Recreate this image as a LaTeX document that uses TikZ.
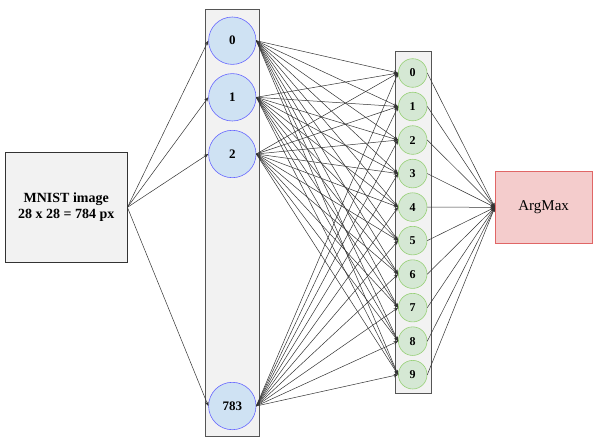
\documentclass[tikz,border=0pt]{standalone}
\usepackage{fontspec}
\setmainfont{Liberation Serif}
\usetikzlibrary{arrows.meta}
\definecolor{boxfill}{HTML}{F2F2F2}
\definecolor{boxline}{HTML}{555555}
\definecolor{bluefill}{HTML}{CFE2F3}
\definecolor{blueline}{HTML}{6666FF}
\definecolor{greenfill}{HTML}{D5E8D4}
\definecolor{greenline}{HTML}{97D077}
\definecolor{redfill}{HTML}{F4CCCC}
\definecolor{redline}{HTML}{E06666}
\definecolor{edgecol}{HTML}{333333}
\begin{document}
\begin{tikzpicture}[x=1pt,y=-1pt,
  column/.style={draw=boxline, fill=boxfill, line width=0.8pt, inner sep=0pt},
  inneuron/.style={circle, draw=blueline, fill=bluefill, line width=0.6pt, minimum size=47.4pt, inner sep=0pt, font=\bfseries\fontsize{13}{15}\selectfont},
  outneuron/.style={circle, draw=greenline, fill=greenfill, line width=0.6pt, minimum size=28.6pt, inner sep=0pt, font=\bfseries\fontsize{12}{14}\selectfont},
  conn/.style={draw=edgecol, line width=0.5pt, -{Stealth[length=4.5pt,width=3.5pt]}},
]
\useasboundingbox (0,0) rectangle (596,444);
\fill[white] (0,0) rectangle (596,444);
% columns
\node[column, minimum width=53.3pt, minimum height=427pt] (incol) at (232.35,222.8) {};
\node[column, minimum width=36pt, minimum height=341.6pt] (outcol) at (413.3,222.5) {};
% input box
\node[draw=edgecol, fill=boxfill, line width=0.8pt, minimum width=121.5pt, minimum height=109.3pt, align=center,
  font=\bfseries\fontsize{14}{16}\selectfont] (mnist) at (66.25,207.35) {MNIST image\\28 x 28 = 784 px};
% argmax
\node[draw=redline, fill=redfill, line width=0.8pt, minimum width=96.7pt, minimum height=71.3pt,
  font=\fontsize{15}{18}\selectfont] (argmax) at (543.65,207.35) {ArgMax};
% input neurons
\node[inneuron] (in0) at (232.3,40.7) {0};
\node[inneuron] (in1) at (232.3,97.3) {1};
\node[inneuron] (in2) at (232.3,154) {2};
\node[inneuron] (in783) at (232.3,406) {783};
% output neurons
\foreach \j in {0,...,9} {
  \node[outneuron] (out\j) at (412.7,{73+33.52*\j}) {\j};
}
% connectors
\foreach \i in {0,1,2,783} {
  \draw[conn] (mnist.east) -- (in\i.west);
  \foreach \j in {0,...,9} {
    \draw[conn] (in\i.east) -- (out\j.west);
  }
}
\foreach \j in {0,...,9} {
  \draw[conn] (out\j.east) -- (argmax.west);
}
\end{tikzpicture}
\end{document}
